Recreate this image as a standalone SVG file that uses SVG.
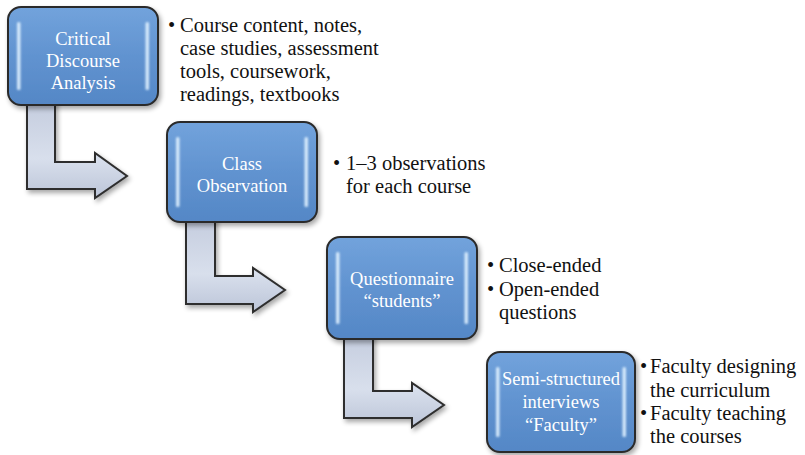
<svg xmlns="http://www.w3.org/2000/svg" width="805" height="455" viewBox="0 0 805 455">
  <defs>
    <linearGradient id="boxFill" x1="0" y1="0" x2="0" y2="1">
      <stop offset="0" stop-color="#72a3dc"/>
      <stop offset="0.5" stop-color="#6193d0"/>
      <stop offset="1" stop-color="#5487c6"/>
    </linearGradient>
    <linearGradient id="arrowFill" x1="0" y1="0" x2="0" y2="1">
      <stop offset="0" stop-color="#c4ccde"/>
      <stop offset="0.6" stop-color="#d8dfec"/>
      <stop offset="1" stop-color="#bcc5d8"/>
    </linearGradient>
    <filter id="shadow" x="-10%" y="-10%" width="125%" height="130%">
      <feGaussianBlur in="SourceAlpha" stdDeviation="2.5"/>
      <feOffset dx="1.5" dy="3" result="b"/>
      <feComponentTransfer><feFuncA type="linear" slope="0.35"/></feComponentTransfer>
      <feMerge><feMergeNode/><feMergeNode in="SourceGraphic"/></feMerge>
    </filter>
    <filter id="glow" x="-200%" y="-10%" width="500%" height="120%">
      <feGaussianBlur stdDeviation="0.8"/>
    </filter>
  </defs>
  <style>
    .box { fill: url(#boxFill); stroke: #2b2b2b; stroke-width: 2; }
    .shine { fill: #e0f1ff; opacity: 0.9; }
    .arrow { fill: url(#arrowFill); stroke: #2e2e2e; stroke-width: 2; stroke-linejoin: miter; }
    .label { font-size: 18.5px; fill: #ffffff; text-anchor: middle; }
    .note { font-size: 20.5px; fill: #111111; }
  </style>

  <rect width="805" height="455" fill="#ffffff"/>

  <!-- connectors: bent arrows leading from each step to the next -->
  <g id="connectors" filter="url(#shadow)">
    <path class="arrow" d="M27,100 L55,100 L55,162 L95,162 L95,153 L127,176 L95,198 L95,189 L27,189 Z"/>
    <path class="arrow" d="M186,216 L215,216 L215,276 L253,276 L253,268 L285,290 L253,312 L253,304 L186,304 Z"/>
    <path class="arrow" d="M344,332 L373,332 L373,391 L412,391 L412,383 L444,405 L412,427 L412,418 L344,418 Z"/>
  </g>

  <g font-family="Liberation Serif, Times New Roman, serif">
  <g id="node-cda">
    <rect class="box" x="8" y="7" width="150" height="98" rx="13" filter="url(#shadow)"/>
    <rect class="shine" x="17" y="22" width="3.5" height="68" rx="1.5" filter="url(#glow)"/>
    <rect class="shine" x="145.5" y="22" width="3.5" height="68" rx="1.5" filter="url(#glow)"/>
    <text class="label" x="83" y="45">Critical</text>
    <text class="label" x="83" y="67">Discourse</text>
    <text class="label" x="83" y="89">Analysis</text>
  </g>
  <g id="note-cda">
    <text class="note" x="168" y="32">•</text>
    <text class="note" x="180" y="32">Course content, notes,</text>
    <text class="note" x="180" y="55">case studies, assessment</text>
    <text class="note" x="180" y="78">tools, coursework,</text>
    <text class="note" x="180" y="101">readings, textbooks</text>
  </g>

  <g id="node-observation">
    <rect class="box" x="167" y="122" width="150" height="100" rx="13" filter="url(#shadow)"/>
    <rect class="shine" x="176" y="137" width="3.5" height="70" rx="1.5" filter="url(#glow)"/>
    <rect class="shine" x="304.5" y="137" width="3.5" height="70" rx="1.5" filter="url(#glow)"/>
    <text class="label" x="242" y="170">Class</text>
    <text class="label" x="242" y="192">Observation</text>
  </g>
  <g id="note-observation">
    <text class="note" x="333" y="170">•</text>
    <text class="note" x="346" y="170">1–3 observations</text>
    <text class="note" x="346" y="193">for each course</text>
  </g>

  <g id="node-questionnaire">
    <rect class="box" x="327" y="237" width="150" height="102" rx="13" filter="url(#shadow)"/>
    <rect class="shine" x="336" y="252" width="3.5" height="72" rx="1.5" filter="url(#glow)"/>
    <rect class="shine" x="464.5" y="252" width="3.5" height="72" rx="1.5" filter="url(#glow)"/>
    <text class="label" x="402" y="285">Questionnaire</text>
    <text class="label" x="402" y="307">“students”</text>
  </g>
  <g id="note-questionnaire">
    <text class="note" x="487" y="272">•</text>
    <text class="note" x="499" y="272">Close-ended</text>
    <text class="note" x="487" y="296">•</text>
    <text class="note" x="499" y="296">Open-ended</text>
    <text class="note" x="499" y="319">questions</text>
  </g>

  <g id="node-interviews">
    <rect class="box" x="487" y="352" width="148" height="100" rx="13" filter="url(#shadow)"/>
    <rect class="shine" x="496" y="367" width="3.5" height="70" rx="1.5" filter="url(#glow)"/>
    <rect class="shine" x="622.5" y="367" width="3.5" height="70" rx="1.5" filter="url(#glow)"/>
    <text class="label" x="561" y="385" font-size="19">Semi-structured</text>
    <text class="label" x="561" y="408" font-size="19">interviews</text>
    <text class="label" x="561" y="431" font-size="19">“Faculty”</text>
  </g>
  <g id="note-interviews">
    <text class="note" x="640" y="373">•</text>
    <text class="note" x="650" y="373">Faculty designing</text>
    <text class="note" x="650" y="397">the curriculum</text>
    <text class="note" x="640" y="420">•</text>
    <text class="note" x="650" y="420">Faculty teaching</text>
    <text class="note" x="650" y="443">the courses</text>
  </g>
  </g>
</svg>
